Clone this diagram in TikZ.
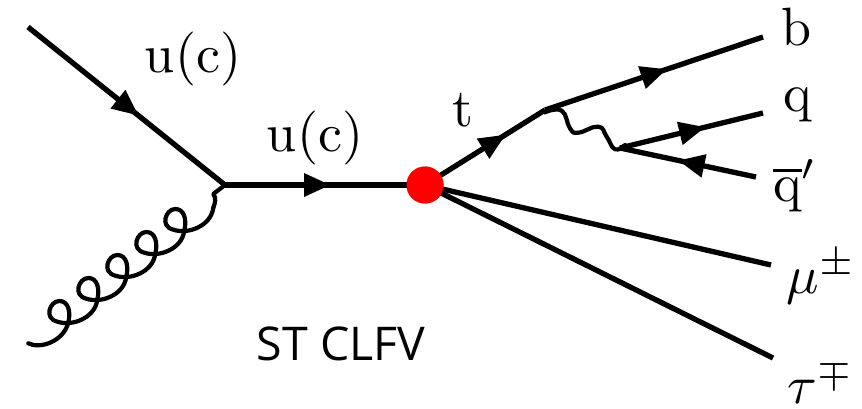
\documentclass[tikz,border=0pt]{standalone}
\usepackage{fontspec}
\newfontfamily\labelsans{Open Sans}
\usetikzlibrary{decorations.markings}
\tikzset{
  x=1pt,y=-1pt,
  line/.style={line width=5.3pt,black},
  curvy/.style={line width=4.2pt,black,line join=round,line cap=round},
  midarrow/.style={postaction={decorate},decoration={markings,mark=at position #1 with {\fill[black] (11,0)--(-15,12)--(-15,-12)--cycle;}}},
  lab/.style={inner sep=0pt,scale=5.4},
  caption/.style={inner sep=0pt,font=\labelsans\fontsize{46.5}{50}\selectfont}
}
\begin{document}
\begin{tikzpicture}
\useasboundingbox (0,0) rectangle (862,408);
\coordinate (in) at (28,27);
\coordinate (v1) at (225,185);
\coordinate (v3) at (545,110);
\coordinate (v4) at (620,148);
\coordinate (bq) at (763,37);
\coordinate (qq) at (763,113);
\coordinate (qb) at (756,177);
\coordinate (mu) at (771,265);
\coordinate (ta) at (773,358);
\node[circle,fill=red,minimum size=37pt,inner sep=0pt] (v2) at (425,185) {};
\draw[line,midarrow=0.516] (in) -- (v1);
\draw[line,midarrow=0.47] (v1) -- (v2.center);
\draw[line,midarrow=0.59] (v2.center) -- (v3);
\draw[line,midarrow=0.51] (v3) -- (bq);
\draw[line,midarrow=0.52] (v4) -- (qq);
\draw[line,midarrow=0.49] (qb) -- (v4);
\draw[line] (v2.center) -- (mu);
\draw[line] (v2.center) -- (ta);
\node[circle,fill=red,minimum size=37pt,inner sep=0pt] at (v2) {};
\begin{scope}[x=0.3333pt,y=-0.3333pt,yshift=-170pt]
\draw[curvy] (85,520) .. controls (120,538) and (190,515) .. (205,458);
\foreach \k in {0,...,4} {
  \draw[curvy,shift={(87*\k,-69*\k)}] (205,458) .. controls (213,425) and (205,393) .. (178,393)
    .. controls (150,393) and (130,445) .. (172,455)
    .. controls (215,470) and (285,445) .. (292,389);
}
\draw[curvy] (640,113) .. controls (645,100) and (650,85) .. (640,72) -- (675,45);
\end{scope}
\begin{scope}[x=0.3333pt,y=-0.3333pt,xshift=520pt,yshift=-80pt]
\draw[curvy] plot[smooth,tension=0.8] coordinates {(75,97)(125,92)(150,145)(175,158)(235,140)(260,170)(285,208)(315,195)};
\end{scope}
\node[lab] (l1) at (193,59) {u(c)};
\node[lab] (l2) at (315,138) {u(c)};
\node[lab] (l3) at (463,110) {t};
\node[lab] (l4) at (797,27) {b};
\node[lab] (l5) at (798,105) {q};
\node[lab] (l6) at (795,186) {$\overline{\mathrm{q}}'$};
\node[lab] (l7) at (821,277) {$\mu^{\pm}$};
\node[lab] (l8) at (821,382) {$\tau^{\mp}$};
\node[caption] (l9) at (341,344) {ST CLFV};
\end{tikzpicture}
\end{document}
